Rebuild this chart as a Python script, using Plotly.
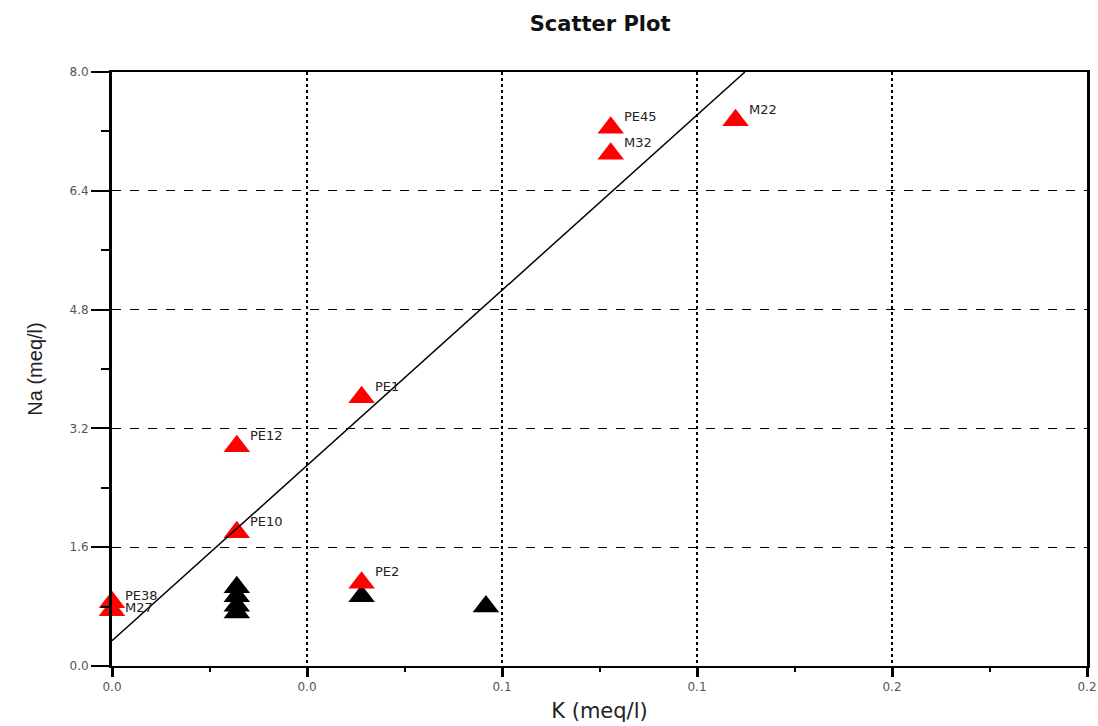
import plotly.graph_objects as go

# Labelled (red) samples
red_names = ["PE45", "M32", "M22", "PE1", "PE12", "PE10", "PE2", "PE38", "M27"]
red_k = [0.1023, 0.1023, 0.1279, 0.0512, 0.0256, 0.0256, 0.0512, 0.0, 0.0]
red_na = [7.25, 6.90, 7.35, 3.62, 2.96, 1.80, 1.12, 0.86, 0.75]

# Unlabelled (black) samples
black_k = [0.0256, 0.0256, 0.0256, 0.0256, 0.0512, 0.0767]
black_na = [1.06, 0.94, 0.81, 0.72, 0.94, 0.80]

# Regression line
line_intercept = 0.34
line_slope = 59.0
line_k_start = 0.0
line_na_end = 8.0

x_range = [0.0, 0.2]
y_range = [0.0, 8.0]

line_k = [line_k_start, (line_na_end - line_intercept) / line_slope]
line_na = [line_intercept + line_slope * k for k in line_k]

fig = go.Figure()
fig.add_trace(go.Scatter(
    x=black_k, y=black_na, mode="markers",
    marker=dict(symbol="triangle-up", size=23, color="black"),
    showlegend=False, hoverinfo="skip", cliponaxis=False))
fig.add_trace(go.Scatter(
    x=red_k, y=red_na, mode="markers",
    marker=dict(symbol="triangle-up", size=23, color="#ff0000"),
    showlegend=False, hoverinfo="skip", cliponaxis=False))
fig.add_trace(go.Scatter(
    x=line_k, y=line_na, mode="lines",
    line=dict(color="black", width=1.5),
    showlegend=False, hoverinfo="skip"))

label_yshift = {"PE38": 7, "M27": 3}
for name, k, na in zip(red_names, red_k, red_na):
    fig.add_annotation(
        x=k, y=na, text=name, showarrow=False,
        xanchor="left", yanchor="middle",
        xshift=11, yshift=label_yshift.get(name, 11),
        font=dict(family="DejaVu Sans", size=13, color="#222"))

fig.update_layout(
    width=1098, height=726,
    margin=dict(l=112, r=11, t=72, b=60),
    paper_bgcolor="white", plot_bgcolor="white",
    title=dict(text="<b>Scatter Plot</b>", x=0.5465, xanchor="center",
               y=0.967, yanchor="middle",
               font=dict(family="DejaVu Sans", size=21, color="#111")),
    xaxis=dict(
        range=x_range, dtick=0.04, tick0=0, tickformat=".1f",
        automargin=False,
        showline=True, linecolor="black", linewidth=1.5, mirror=True,
        ticks="outside", ticklen=9, tickwidth=3, tickcolor="black",
        showgrid=True, gridcolor="black", gridwidth=2, griddash="dot",
        zeroline=False,
        minor=dict(dtick=0.02, ticks="outside", ticklen=4, tickwidth=2,
                   tickcolor="black", showgrid=False),
        tickfont=dict(family="DejaVu Sans", size=12, color="#555"),
        title=dict(text="K (meq/l)", standoff=10,
                   font=dict(family="DejaVu Sans", size=21, color="#222")),
    ),
    yaxis=dict(
        range=y_range, dtick=1.6, tick0=0, tickformat=".1f",
        automargin=False,
        showline=True, linecolor="black", linewidth=3, mirror=True,
        ticks="outside", ticklen=18, tickwidth=1.5, tickcolor="black",
        showgrid=True, gridcolor="black", gridwidth=1.3, griddash="dash",
        zeroline=False,
        minor=dict(dtick=0.8, ticks="outside", ticklen=8, tickwidth=1.5,
                   tickcolor="black", showgrid=False),
        tickfont=dict(family="DejaVu Sans", size=12, color="#555"),
        title=dict(text="Na (meq/l)", standoff=22,
                   font=dict(family="Liberation Sans", size=20, color="#222")),
    ),
)

fig.write_html("out.html", config={"displayModeBar": False},
               post_script="document.body.style.margin='0';document.body.style.overflow='hidden';")
